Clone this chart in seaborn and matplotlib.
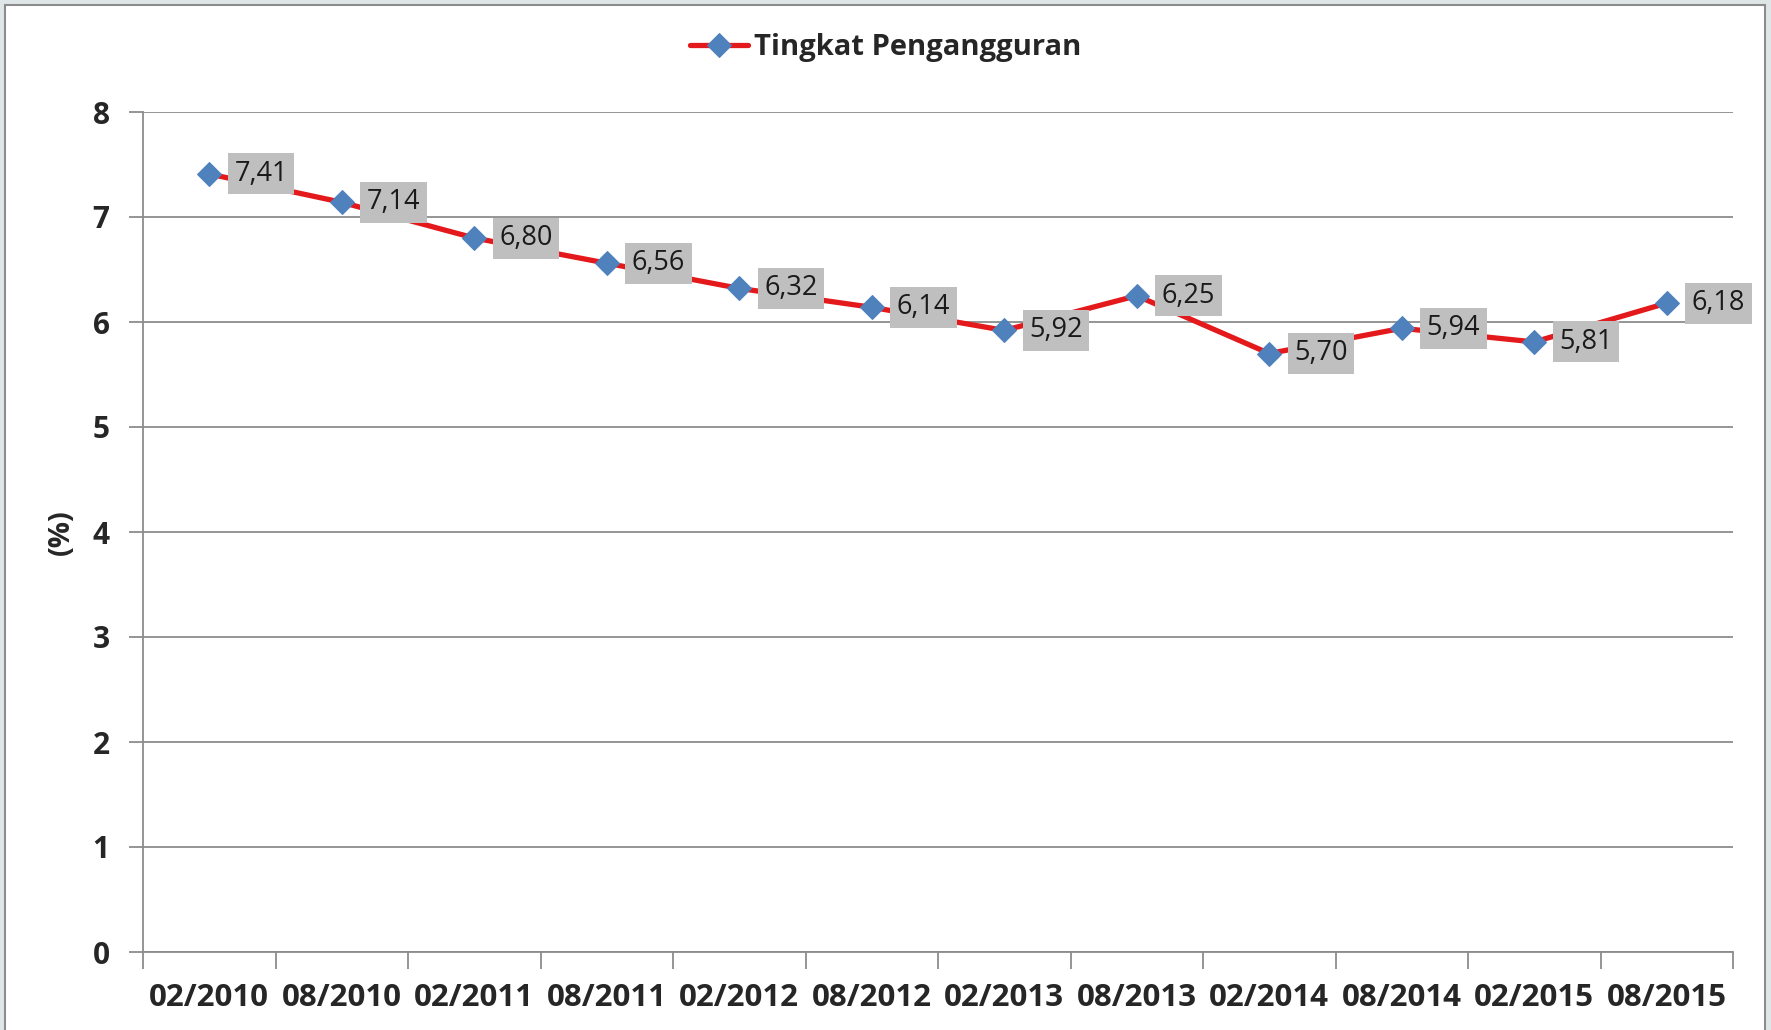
import matplotlib
matplotlib.use("Agg")
import matplotlib.pyplot as plt
import seaborn as sns
import pandas as pd
from matplotlib.patches import Rectangle
from matplotlib.ticker import FixedLocator

# data
periods = ["02/2010", "08/2010", "02/2011", "08/2011", "02/2012", "08/2012",
           "02/2013", "08/2013", "02/2014", "08/2014", "02/2015", "08/2015"]
unemployment = [7.41, 7.14, 6.80, 6.56, 6.32, 6.14, 5.92, 6.25, 5.70, 5.94, 5.81, 6.18]
series_name = "Tingkat Pengangguran"
y_ticks = [0, 1, 2, 3, 4, 5, 6, 7, 8]

df = pd.DataFrame({"periode": periods, "tpt": unemployment})

sns.set_style("white")
plt.rcParams["font.family"] = ["Open Sans", "DejaVu Sans"]

fig = plt.figure(figsize=(17.71, 10.30), dpi=100)
fig.patch.set_facecolor("#DFE6E8")
# white chart area with a thin gray frame
fig.patches.append(Rectangle((5 / 1771, -0.05), (1765 - 5) / 1771, 1.05 - 5 / 1030,
                             transform=fig.transFigure, facecolor="white",
                             edgecolor="#8C8C8C", linewidth=1.5, zorder=-5))

ax = fig.add_axes([143 / 1771, 78 / 1030, (1733 - 143) / 1771, (952 - 112) / 1030])
ax.set_facecolor("none")

sns.lineplot(data=df, x="periode", y="tpt", ax=ax, color="#E3191C", linewidth=3.8,
             marker="D", markersize=12, markerfacecolor="#4F81BD",
             markeredgecolor="#4F81BD", label=series_name, zorder=3, sort=False)

# value labels on gray boxes
for i, v in enumerate(unemployment):
    ax.annotate(f"{v:.2f}".replace(".", ","), (i, v), xytext=(18, 0),
                textcoords="offset points", ha="left", va="center",
                fontsize=19.5, color="#1a1a1a", zorder=4,
                bbox=dict(boxstyle="square,pad=0.24", facecolor="#BFBFBF",
                          edgecolor="none"))

ax.set_ylim(0, 8)
ax.set_xlim(-0.5, len(periods) - 0.5)
ax.set_yticks(y_ticks)
ax.yaxis.grid(True, color="#8C8C8C", linewidth=1.3)
ax.tick_params(axis="y", length=10, width=1.3, color="#8C8C8C", pad=14,
               labelsize=21.5, left=True)
for lab in ax.get_yticklabels():
    lab.set_fontweight("bold")

# category axis: labels at centres, tick marks on the boundaries
ax.set_xticks(range(len(periods)))
ax.set_xticklabels(periods, fontsize=22.5, fontweight="bold")
ax.tick_params(axis="x", which="major", length=0, pad=22)
ax.xaxis.set_minor_locator(FixedLocator([i - 0.5 for i in range(len(periods) + 1)]))
ax.tick_params(axis="x", which="minor", length=12, width=1.3, color="#8C8C8C",
               bottom=True)

for side in ["top", "right"]:
    ax.spines[side].set_visible(False)
for side in ["left", "bottom"]:
    ax.spines[side].set_color("#8C8C8C")
    ax.spines[side].set_linewidth(1.3)

ax.set_xlabel("")
ax.set_ylabel("(%)", fontsize=21, fontweight="bold", labelpad=12)

leg = ax.legend(loc="center", bbox_to_anchor=(0.5, 1 - 48 / 1030),
                bbox_transform=fig.transFigure, frameon=False,
                prop={"weight": "bold", "size": 21}, handlelength=2.0,
                handletextpad=0.2)

fig.savefig("out.png", dpi=100, facecolor=fig.get_facecolor())
